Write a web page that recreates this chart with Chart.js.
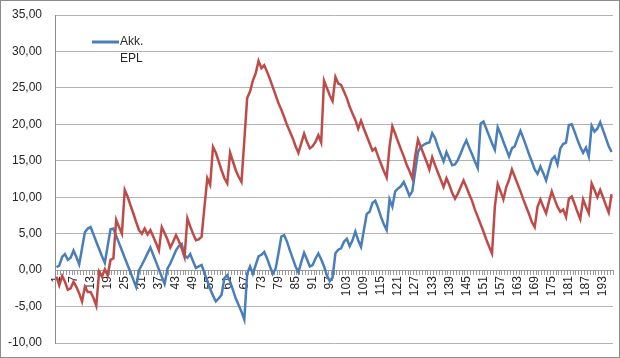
<!DOCTYPE html>
<html lang="en">
<head>
<meta charset="UTF-8">
<title>Akk. EPL</title>
<script src="https://cdn.jsdelivr.net/npm/chart.js"></script>
<style>
  html, body { margin: 0; padding: 0; background: #fff; }
  #wrap { width: 620px; height: 358px; }
</style>
</head>
<body>
<div id="wrap"><canvas id="myChart" width="620" height="358"></canvas></div>
<script>
// periods 1..196
const periods = [];
for (let i = 1; i <= 196; i++) periods.push(String(i));

// blue series (Akk. EPL)
const akkEpl = [
  0.4, 0.6, 1.8, 2.2, 1.4, 1.7, 2.7, 1.8, 0.8, 3.0,
  5.2, 5.7, 5.9, 4.9, 3.9, 2.9, 1.9, 1.0, 3.3, 5.6,
  5.7, 4.7, 3.7, 2.7, 1.7, 0.7, -0.3, -1.3, -2.3, 0.0,
  0.7, 1.5, 2.3, 3.1, 2.1, 1.1, 0.1, -0.9, -1.9, 0.2,
  0.9, 1.8, 2.7, 3.3, 3.6, 2.0, 1.7, 2.2, 1.2, 0.3,
  0.5, 0.7, -0.4, -1.5, -2.6, -3.5, -4.3, -3.9, -3.4, -1.1,
  -0.7, -1.6, -2.7, -3.9, -4.8, -5.7, -6.8, -0.5, 0.5, -0.5,
  0.7, 1.9, 2.1, 2.5, 1.6, 0.5, -0.5, 0.2, 2.3, 4.6,
  4.8, 3.9, 2.7, 1.6, 0.5, -0.3, 1.1, 2.4, 1.5, 0.5,
  0.7, 1.6, 2.3, 1.5, 0.5, -0.7, -1.5, -1.0, 2.3, 2.8,
  3.0, 3.9, 4.3, 3.3, 4.1, 5.3, 4.1, 3.2, 5.5, 7.7,
  8.0, 9.2, 9.5, 8.5, 7.3, 6.3, 5.5, 9.7, 8.7, 10.8,
  11.2, 11.5, 12.1, 11.2, 10.2, 10.8, 13.5, 16.2, 16.9, 17.2,
  17.4, 17.5, 18.8, 18.1, 16.9, 15.9, 14.9, 16.2, 15.3, 14.4,
  14.5, 15.1, 16.0, 17.0, 17.8, 16.8, 15.9, 14.9, 14.0, 20.1,
  20.4, 19.4, 18.4, 17.4, 16.5, 19.6, 18.7, 17.6, 16.6, 15.6,
  16.7, 17.0, 18.1, 19.1, 18.1, 17.0, 15.9, 14.9, 13.8, 13.2,
  14.2, 13.3, 12.3, 13.8, 15.2, 15.6, 14.5, 16.7, 17.3, 17.5,
  19.9, 20.0, 19.0, 17.9, 16.9, 16.1, 16.8, 15.6, 19.8, 19.0,
  19.4, 20.3, 19.2, 18.1, 17.0, 16.2
];

// red series (no legend entry)
const redSeries = [
  -0.9, -2.1, -0.8, -1.6, -2.7, -2.5, -1.6, -2.3, -3.2, -4.3,
  -2.3, -3.0, -3.0, -3.8, -4.9, -0.2, -0.9, 0.1, -0.7, 1.4,
  1.6, 6.9, 5.9, 5.0, 11.0, 10.1, 8.9, 7.8, 6.6, 5.5,
  5.0, 5.7, 4.9, 5.5, 4.6, 3.7, 2.7, 5.9, 5.1, 4.2,
  3.1, 3.9, 4.8, 4.0, 3.0, 1.8, 7.1, 6.0, 5.0, 4.1,
  4.2, 4.6, 8.7, 12.6, 11.7, 16.9, 16.1, 14.9, 13.7, 12.6,
  11.9, 16.1, 14.9, 13.7, 12.8, 12.1, 17.8, 23.6, 24.5, 26.0,
  27.0, 28.7, 27.7, 28.1, 27.2, 26.2, 25.1, 24.0, 22.9, 22.0,
  21.0, 19.9, 19.0, 18.1, 17.0, 16.1, 17.4, 18.7, 17.6, 16.7,
  17.0, 17.6, 18.5, 17.5, 26.0, 25.0, 24.0, 23.2, 26.5, 25.6,
  25.4, 24.5, 23.6, 22.4, 21.5, 20.6, 19.4, 20.5, 19.4, 18.4,
  17.4, 16.4, 16.7, 15.6, 14.6, 13.6, 12.7, 16.9, 19.7, 18.7,
  17.6, 16.6, 15.6, 14.5, 13.6, 12.6, 15.6, 17.9, 16.9, 15.9,
  14.9, 13.8, 15.5, 14.4, 13.4, 12.4, 11.4, 12.6, 11.7, 10.6,
  9.8, 10.5, 11.4, 12.3, 11.4, 10.4, 9.5, 8.3, 7.3, 6.3,
  5.3, 4.2, 3.2, 2.3, 8.7, 11.8, 10.8, 9.7, 11.4, 12.4,
  13.8, 12.8, 11.8, 10.8, 9.7, 8.7, 7.7, 6.6, 5.9, 8.7,
  9.7, 8.7, 7.8, 9.4, 10.8, 9.7, 8.7, 8.0, 8.3, 7.3,
  9.8, 10.1, 9.1, 8.0, 7.0, 9.7, 8.7, 7.8, 11.9, 11.0,
  10.0, 11.0, 10.0, 8.9, 7.9, 10.4
];

const yMin = -10, yMax = 35, yStep = 5;

const fontFamily = "'Liberation Sans', Arial, sans-serif";
const textColor = '#262626';
const gridColor = '#b3b3b3';

// white background + outer frame + small legend in the upper left
const framePlugin = {
  id: 'frame',
  beforeDraw(chart) {
    const c = chart.ctx;
    c.save();
    c.fillStyle = '#fff';
    c.fillRect(0, 0, chart.width, chart.height);
    c.restore();
  },
  afterDraw(chart) {
    const c = chart.ctx;
    c.save();
    c.strokeStyle = '#8c8c8c';
    c.lineWidth = 1;
    c.strokeRect(0.5, 0.5, chart.width - 1, chart.height - 1);

    // legend: only the named series
    const ds = chart.data.datasets[0];
    const x0 = 92, y0 = 42;
    c.strokeStyle = ds.borderColor;
    c.lineWidth = 3;
    c.beginPath();
    c.moveTo(x0, y0);
    c.lineTo(x0 + 27, y0);
    c.stroke();
    c.fillStyle = textColor;
    c.font = '12px ' + fontFamily;
    c.textBaseline = 'middle';
    c.textAlign = 'left';
    ds.label.split(' ').forEach((w, k) => c.fillText(w, x0 + 28, y0 + k * 17));
    c.restore();
  }
};

const ctx = document.getElementById('myChart').getContext('2d');
const myChart = new Chart(ctx, {
  type: 'line',
  data: {
    labels: periods,
    datasets: [
      {
        label: 'Akk. EPL',
        data: akkEpl,
        borderColor: '#4a7ebb',
        borderWidth: 2.5,
        pointRadius: 0,
        tension: 0,
        order: 1
      },
      {
        label: '',
        data: redSeries,
        borderColor: '#be4b48',
        borderWidth: 2.5,
        pointRadius: 0,
        tension: 0,
        order: 0
      }
    ]
  },
  options: {
    responsive: false,
    animation: false,
    layout: { padding: { top: 15, bottom: 15, left: 0, right: 7 } },
    plugins: {
      legend: { display: false },
      tooltip: { enabled: false }
    },
    scales: {
      x: {
        type: 'category',
        position: { y: 0 },
        offset: true,
        afterFit(scale) { scale.paddingLeft = 0; scale.paddingRight = 0; },
        grid: {
          offset: true,
          drawOnChartArea: false,
          drawTicks: true,
          tickLength: 4,
          color: '#9a9a9a'
        },
        border: { display: true, color: '#9a9a9a' },
        ticks: {
          autoSkip: false,
          minRotation: 90,
          maxRotation: 90,
          padding: 2,
          color: textColor,
          font: { family: fontFamily, size: 12 },
          callback: function (val, index) {
            return index % 6 === 0 ? this.getLabelForValue(val) : '';
          }
        }
      },
      y: {
        min: yMin,
        max: yMax,
        afterFit(scale) {
          scale.width = 55;
          scale.paddingTop = 0;
          scale.paddingBottom = 0;
        },
        grid: { color: gridColor, drawTicks: false },
        border: { display: true, color: '#8c8c8c' },
        ticks: {
          stepSize: yStep,
          padding: 13,
          color: textColor,
          font: { family: fontFamily, size: 12 },
          callback: v => v.toFixed(2).replace('.', ',')
        }
      }
    }
  },
  plugins: [framePlugin]
});
</script>
</body>
</html>
